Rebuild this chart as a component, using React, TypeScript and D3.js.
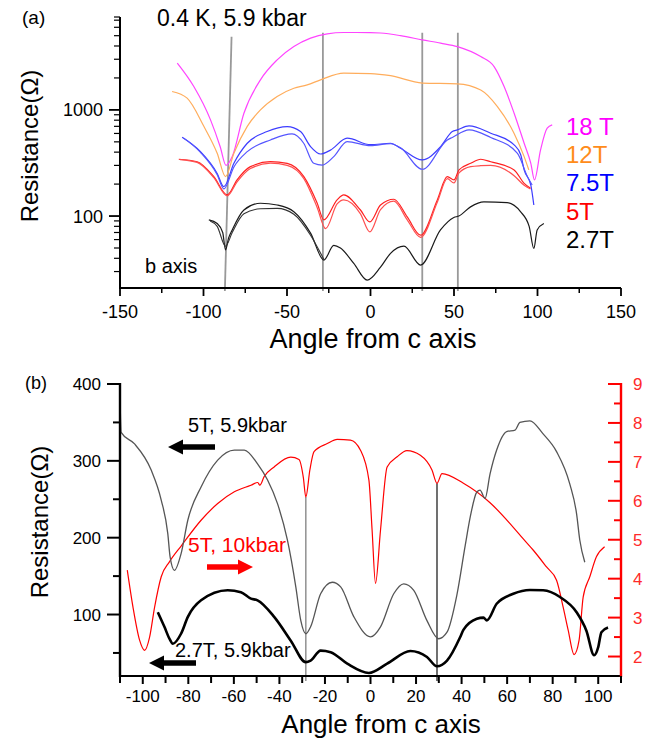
import React from 'react';
import * as d3 from 'd3';

const W = 658;
const H = 738;
const FONT = '"Liberation Sans", Arial, Helvetica, sans-serif';

// ---- panel (a): 0.4 K, 5.9 kbar, angle (deg) vs resistance (ohm) ----
const r18T = [
  [-115.7, 2760], [-105.8, 1660], [-95.8, 805], [-90, 450], [-86.5, 300], [-82.8, 363],
  [-75.8, 930], [-65.9, 1920], [-55.9, 2960], [-45.9, 3950], [-35.9, 4740], [-25.9, 5210],
  [-16, 5360], [0, 5350], [6, 5300], [18, 5000], [31, 4570], [42, 4250], [52, 3950],
  [66, 3180], [74, 2560], [80, 1660], [86, 930], [92, 485], [96, 314], [98.2, 219],
  [101.8, 417], [105.8, 672], [108.8, 722],
];
const r12T = [
  [-118.8, 1490], [-109.8, 1290], [-99.8, 700], [-91.8, 390], [-86.8, 235], [-81.8, 390],
  [-73.8, 700], [-65.9, 1000], [-55.9, 1340], [-45.9, 1600], [-37.9, 1720], [-29.9, 1920],
  [-16, 2220], [0, 2200], [12, 2100], [31, 1790], [52, 1760], [66, 1540], [76, 1075],
  [86, 600], [92, 363], [94.8, 272],
];
const r75Ta = [
  [-112.8, 552], [-101.8, 404], [-91.8, 252], [-87.8, 189], [-81.8, 314], [-73.8, 485],
  [-61.9, 625], [-49.9, 696], [-41.9, 625], [-35.9, 451], [-29.9, 384], [-24, 418],
  [-14, 541], [0, 470], [12, 485], [18, 435], [31, 338], [42, 451], [49, 625], [52, 648],
  [59, 706], [72, 603], [86, 468], [90, 376], [92, 272], [96, 196], [97.8, 127],
];
const r75Tb = [
  [-112, 545], [-101.8, 398], [-91.8, 245], [-87.8, 180], [-81.8, 290], [-73.8, 404],
  [-59.9, 521], [-47, 594], [-40, 485], [-34, 314], [-28.9, 302], [-22, 363], [-14, 503],
  [0, 460], [12, 480], [18, 440], [31, 276], [46, 521], [49, 550], [59, 648], [72, 550],
  [88, 390], [94, 235], [96.8, 196],
];
const r5Ta = [
  [-114.8, 343], [-103.8, 325], [-93.8, 235], [-85.8, 158], [-79.9, 219], [-71.9, 292],
  [-59.9, 325], [-49.9, 314], [-39.9, 235], [-31.9, 132], [-27.9, 92], [-20, 142], [-16, 158],
  [-6, 114], [-0.4, 88], [6, 127], [14, 144], [22, 98], [30, 66], [40, 142], [46, 235],
  [50, 219], [53, 272], [60, 314], [66, 343], [72, 325], [86, 272], [92, 203], [95.8, 183],
];
const r5Tb = [
  [-114, 340], [-103.8, 320], [-93.8, 230], [-85.8, 155], [-79.9, 210], [-71.9, 280],
  [-59.9, 315], [-49.9, 300], [-39.9, 225], [-31.9, 120], [-26.9, 76], [-20, 130], [-16, 142],
  [-6, 105], [-0.4, 71], [6, 115], [14, 138], [22, 92], [30, 63], [40, 135], [46, 225],
  [50, 205], [53, 255], [60, 292], [66, 298], [72, 300], [86, 240], [92, 195], [95.8, 180],
];
const r27Ta = [
  [-96.8, 92], [-91.8, 85], [-88.5, 70], [-86.8, 48], [-85, 62], [-82.8, 74], [-75.8, 114],
  [-65.9, 132], [-55.9, 127], [-45.9, 110], [-35.9, 69], [-27.9, 38.5], [-22, 53], [-18, 50],
  [-10, 35.8], [-2, 24.9], [6, 33], [12, 44.5], [20, 52], [30, 34.5], [41.9, 74], [49.9, 97],
  [52.9, 100], [59.9, 122], [67.9, 136], [81.8, 134], [89.8, 110], [95, 80], [97.8, 49.5],
  [99.8, 74], [103.8, 85],
];
const r27Tb = [
  [-96, 90], [-91.8, 80], [-86.8, 52], [-82.8, 70], [-75.8, 105], [-65.9, 117], [-55.9, 118],
  [-45.9, 104], [-35.9, 66], [-27.9, 39],
];
const vLinesA = [[-83.2, -87.2], [-28.5, -28.5], [31, 31], [52.3, 52.3]];
const vLineTopsA = [4890, 5330, 5330, 5330];

const xTicksA = [-150, -100, -50, 0, 50, 100, 150];
const xMinorA = [-125, -75, -25, 25, 75, 125];
const yTicksA = [100, 1000];
const legendLabels = ['18 T', '12T', '7.5T', '5T', '2.7T'];
const legendColors = ['#ff00ff', '#ff8c1a', '#0000ff', '#ff0000', '#000000'];

// ---- panel (b) ----
const b5Tthin = [
  [-110, 383], [-109.5, 337], [-103.6, 322], [-96.3, 288], [-91.9, 249], [-89, 205], [-88, 175],
  [-86.1, 157.5], [-83.2, 179], [-80.2, 223], [-74.4, 266], [-67.1, 301], [-59.8, 314],
  [-55.4, 314], [-49.6, 296], [-45.2, 275], [-40.8, 244], [-36.5, 197], [-32.8, 136],
  [-30.6, 92], [-28.4, 75], [-26.3, 84], [-21.9, 127], [-16.8, 142], [-13.1, 136], [-7.3, 97],
  [0, 71], [4.4, 84], [10.2, 127], [14.6, 140], [19, 131.5], [24.8, 92], [29.9, 68.5],
  [33.6, 77], [37.9, 125], [41.6, 190], [43.8, 227], [46.7, 259.5], [48.1, 262], [50.3, 251],
  [52.5, 283], [55.4, 314], [59.8, 338], [63.5, 340], [65.6, 350], [70, 352], [75.8, 335],
  [81.7, 312], [87.5, 270], [90.5, 231], [91.9, 197], [94.1, 168],
];
const b27Tthick = [
  [-93.4, 103], [-90.5, 84], [-88.3, 68.6], [-86.8, 62], [-83.2, 75], [-80.2, 97], [-74.4, 118.5],
  [-62.7, 131.5], [-56.9, 129], [-52.5, 120.7], [-49.6, 118.5], [-42.3, 97], [-35, 66],
  [-28.4, 38], [-26.3, 40], [-21.9, 53], [-17.5, 51], [-10.2, 36], [-0.7, 24], [7.3, 36],
  [17.5, 52.5], [24.8, 44.7], [29.2, 32.6], [33.6, 40], [39.4, 70.7], [40.8, 80], [46.7, 94.5],
  [49.6, 96], [51.1, 92.4], [55.4, 114], [62.7, 127], [70, 132], [75.8, 131.5], [83.2, 122.8],
  [90.5, 103], [94.8, 79], [98.2, 47], [100, 57.7], [101.4, 77], [104.3, 83],
];
const b5T10kbar = [
  [-106.8, 4.22], [-104.3, 3.27], [-101.4, 2.42], [-99.2, 2.16], [-97, 2.5], [-94.8, 3.27],
  [-91.9, 4.05], [-88.3, 4.43], [-83, 4.85], [-74.4, 5.5], [-67.1, 5.93], [-59.8, 6.23],
  [-52.5, 6.4], [-49.5, 6.47], [-48.6, 6.4], [-46.7, 6.62], [-42.3, 6.87], [-35, 7.12],
  [-31.4, 7.06], [-29.5, 6.6], [-28.4, 6.1], [-26.6, 6.8], [-24.8, 7.26], [-19, 7.47],
  [-14.6, 7.58], [-8.8, 7.56], [-4.4, 7.3], [-0.7, 6.53], [0.7, 5.25], [2.2, 3.88], [4.4, 5.25],
  [7.3, 6.87], [11.7, 7.13], [16, 7.29], [21.9, 7.17], [27, 6.79], [29.2, 6.45], [31.4, 6.7],
  [40.8, 6.45], [52.5, 5.95], [62.7, 5.32], [67.1, 5.02], [71.5, 4.73], [77.3, 4.3], [81.7, 3.96],
  [84.6, 3.27], [86.8, 2.68], [89.4, 2.05], [91.6, 2.42], [93.4, 3.53], [96.3, 4.05],
  [99.2, 4.56], [102.8, 4.82],
];
const vLinesB = [-28.4, 29.2];
const vLineTopsB = [6.1, 6.45];

const xTicksB = [-100, -80, -60, -40, -20, 0, 20, 40, 60, 80, 100];
const xMinorB = [-110, -90, -70, -50, -30, -10, 10, 30, 50, 70, 90, 110];
const yTicksBL = [100, 200, 300, 400];
const yMinorBL = [50, 150, 250, 350];
const yTicksBR = [2, 3, 4, 5, 6, 7, 8, 9];
const yMinorBR = [2.5, 3.5, 4.5, 5.5, 6.5, 7.5, 8.5];

type Pt = number[];

const Arrow = ({ tail, tip, y, color }: { tail: number; tip: number; y: number; color: string }) => {
  const dir = tip > tail ? 1 : -1;
  const headLen = 15;
  const base = tip - dir * headLen;
  const d = `M${tail},${y - 2.8}L${base},${y - 2.8}L${base},${y - 7.5}L${tip},${y}L${base},${y + 7.5}L${base},${y + 2.8}L${tail},${y + 2.8}Z`;
  return <path d={d} fill={color} />;
};

export default function App() {
  // panel (a) scales
  const xA = d3.scaleLinear().domain([-150, 150]).range([120, 621]);
  const yA = d3.scaleLog().domain([21, 7500]).range([288, 17]);
  const lineA = d3.line<Pt>().x(d => xA(d[0])).y(d => yA(d[1])).curve(d3.curveMonotoneX);
  const minorLogA: number[] = [];
  [10, 100, 1000].forEach(dec => {
    for (let m = 2; m <= 9; m++) {
      const v = dec * m;
      if (v >= 21 && v <= 7500) minorLogA.push(v);
    }
  });

  // panel (b) scales
  const xB = d3.scaleLinear().domain([-110, 110]).range([120, 621]);
  const yBL = d3.scaleLinear().domain([20, 400]).range([676, 384]);
  const yBR = d3.scaleLinear().domain([1.5, 9]).range([676, 384]);
  const lineBL = d3.line<Pt>().x(d => xB(d[0])).y(d => yBL(d[1])).curve(d3.curveMonotoneX);
  const lineBR = d3.line<Pt>().x(d => xB(d[0])).y(d => yBR(d[1])).curve(d3.curveMonotoneX);

  const seriesA = [
    { data: r18T, color: '#ff44ff', w: 1.2 },
    { data: r12T, color: '#ffad5c', w: 1.2 },
    { data: r75Ta, color: '#3d3dff', w: 1.2 },
    { data: r75Tb, color: '#5555ff', w: 1.2 },
    { data: r5Ta, color: '#ff2020', w: 1.2 },
    { data: r5Tb, color: '#ff5050', w: 1.2 },
    { data: r27Ta, color: '#1a1a1a', w: 1.2 },
    { data: r27Tb, color: '#333333', w: 1.1 },
  ];

  return (
    <svg
      width={W}
      height={H}
      viewBox={`0 0 ${W} ${H}`}
      style={{ position: 'absolute', left: 0, top: 0, background: '#fff' }}
      fontFamily={FONT}
    >
      <rect x={0} y={0} width={W} height={H} fill="#fff" />

      {/* ===== panel (a) ===== */}
      <text x={22} y={24} fontSize={19}>(a)</text>
      <text x={157} y={26} fontSize={23}>0.4 K, 5.9 kbar</text>

      {vLinesA.map((v, i) => (
        <line key={i} x1={xA(v[0])} x2={xA(v[1])} y1={yA(vLineTopsA[i])} y2={291}
          stroke="#999" strokeWidth={1.8} />
      ))}

      {seriesA.map((s, i) => (
        <path key={i} d={lineA(s.data) || ''} fill="none" stroke={s.color} strokeWidth={s.w} />
      ))}

      {/* axes (a) */}
      <line x1={120} x2={120} y1={17} y2={289} stroke="#000" strokeWidth={2} />
      <line x1={119} x2={621} y1={288} y2={288} stroke="#000" strokeWidth={2} />
      {minorLogA.map(v => (
        <line key={v} x1={114} x2={120} y1={yA(v)} y2={yA(v)} stroke="#000" strokeWidth={1.2} />
      ))}
      <line x1={114} x2={120} y1={17} y2={17} stroke="#000" strokeWidth={1.2} />
      {yTicksA.map(v => (
        <g key={v}>
          <line x1={109} x2={120} y1={yA(v)} y2={yA(v)} stroke="#000" strokeWidth={1.8} />
          <text x={103} y={yA(v) + 6.5} fontSize={18} textAnchor="end">{v}</text>
        </g>
      ))}
      {xTicksA.map(v => (
        <g key={v}>
          <line x1={xA(v)} x2={xA(v)} y1={288} y2={296} stroke="#000" strokeWidth={1.8} />
          <text x={xA(v)} y={318} fontSize={18} textAnchor="middle">{v}</text>
        </g>
      ))}
      {xMinorA.map(v => (
        <line key={v} x1={xA(v)} x2={xA(v)} y1={288} y2={293} stroke="#000" strokeWidth={1.5} />
      ))}
      <text x={373} y={348} fontSize={27} textAnchor="middle">Angle from c axis</text>
      <text transform="translate(38,146) rotate(-90)" fontSize={24} textAnchor="middle">Resistance(Ω)</text>
      <text x={145} y={273} fontSize={20}>b axis</text>

      {legendLabels.map((l, i) => (
        <text key={l} x={566} y={135 + i * 28.2} fontSize={24} fill={legendColors[i]}>{l}</text>
      ))}

      {/* ===== panel (b) ===== */}
      <text x={25} y={389} fontSize={18}>(b)</text>

      {vLinesB.map((v, i) => (
        <line key={i} x1={xB(v)} x2={xB(v)} y1={yBR(vLineTopsB[i])} y2={681}
          stroke={i === 0 ? '#888' : '#333'} strokeWidth={1.4} />
      ))}

      <path d={lineBR(b5T10kbar) || ''} fill="none" stroke="#ff0000" strokeWidth={1.2} />
      <path d={lineBL(b5Tthin) || ''} fill="none" stroke="#555" strokeWidth={1.3} />
      <path d={lineBL(b27Tthick) || ''} fill="none" stroke="#000" strokeWidth={2.6} />

      {/* axes (b) */}
      <line x1={120} x2={120} y1={383} y2={677} stroke="#000" strokeWidth={2.4} />
      <line x1={119} x2={622} y1={676} y2={676} stroke="#000" strokeWidth={2.2} />
      <line x1={621} x2={621} y1={383} y2={677} stroke="#ff0000" strokeWidth={2.4} />
      {yTicksBL.map(v => (
        <g key={v}>
          <line x1={107} x2={120} y1={yBL(v)} y2={yBL(v)} stroke="#000" strokeWidth={2} />
          <text x={101} y={yBL(v) + 6} fontSize={17} textAnchor="end">{v}</text>
        </g>
      ))}
      {yMinorBL.map(v => (
        <line key={v} x1={113} x2={120} y1={yBL(v)} y2={yBL(v)} stroke="#000" strokeWidth={2} />
      ))}
      {yTicksBR.map(v => (
        <g key={v}>
          <line x1={608} x2={621} y1={yBR(v)} y2={yBR(v)} stroke="#ff0000" strokeWidth={2} />
          <text x={633} y={yBR(v) + 6} fontSize={17} fill="#ff2a2a">{v}</text>
        </g>
      ))}
      {yMinorBR.map(v => (
        <line key={v} x1={614} x2={621} y1={yBR(v)} y2={yBR(v)} stroke="#ff0000" strokeWidth={2} />
      ))}
      {xTicksB.map(v => (
        <g key={v}>
          <line x1={xB(v)} x2={xB(v)} y1={676} y2={684} stroke="#000" strokeWidth={2} />
          <text x={xB(v)} y={702} fontSize={17} textAnchor="middle">{v}</text>
        </g>
      ))}
      {xMinorB.map(v => (
        <line key={v} x1={xB(v)} x2={xB(v)} y1={676} y2={683} stroke="#000" strokeWidth={2} />
      ))}
      <text x={381} y={733} fontSize={26} textAnchor="middle">Angle from c axis</text>
      <text transform="translate(48,522) rotate(-90)" fontSize={24} textAnchor="middle">Resistance(Ω)</text>

      <text x={188} y={432} fontSize={20}>5T, 5.9kbar</text>
      <Arrow tail={215} tip={168} y={447} color="#000" />
      <text x={188} y={552} fontSize={21} fill="#ff0000">5T, 10kbar</text>
      <Arrow tail={207} tip={253} y={567} color="#ff0000" />
      <text x={175} y={657} fontSize={20}>2.7T, 5.9kbar</text>
      <Arrow tail={196} tip={149} y={663} color="#000" />
    </svg>
  );
}
